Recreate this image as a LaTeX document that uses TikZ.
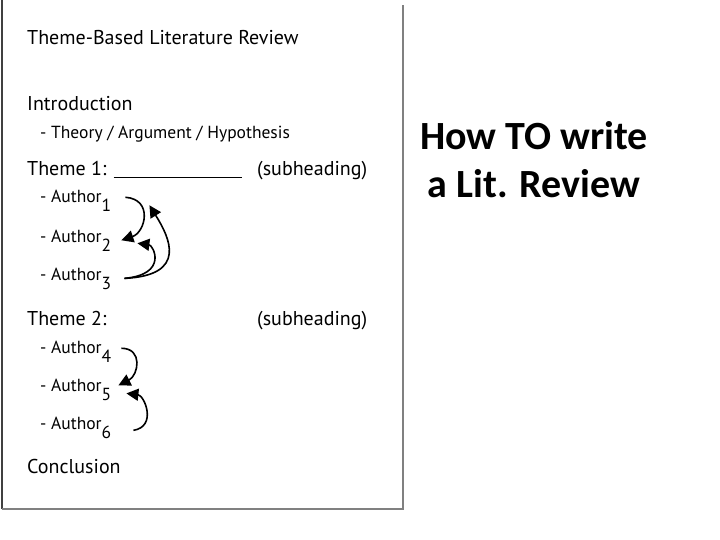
\documentclass[tikz,border=0pt]{standalone}
\usepackage{fontspec}
\setmainfont{PT Sans}
\newfontfamily\slidefont{Carlito}
\usetikzlibrary{arrows.meta, positioning}
\newcommand{\authsub}[1]{\raisebox{-9pt}{#1}}

\begin{document}
\begin{tikzpicture}[x=1pt, y=-1pt,
  hand/.style={anchor=base west, inner sep=1pt, font=\fontsize{20}{24}\selectfont},
  author/.style={hand, font=\fontsize{17.5}{21}\selectfont},
  arr/.style={-{Triangle[length=12pt, width=12pt]}, line width=1.6pt},
]
\fill[white] (0,0) rectangle (720,540);
\useasboundingbox (0,0) rectangle (720,540);

% Page frame
\draw[black!75, line width=1.5pt] (2,0) -- (2,509);
\draw[gray, line width=2pt] (2,509) -- (403,509) -- (403,5);

% Outline text
\node[hand] (title) at (26,45) {Theme-Based Literature Review};
\node[hand] (intro) at (26,111) {Introduction};
\node[author] (thesis) at (39,139) {- Theory / Argument / Hypothesis};
\node[hand] (theme1) at (26,176) {Theme 1: \underline{\hspace{128pt}}};
\node[hand] (sub1) at (256,176) {(subheading)};
\node[author] (a1) at (39,203) {- Author\authsub{1}};
\node[author] (a2) at (39,243) {- Author\authsub{2}};
\node[author] (a3) at (39,280) {- Author\authsub{3}};
\node[hand] (theme2) at (26,325) {Theme 2:};
\node[hand] (sub2) at (256,325) {(subheading)};
\node[author] (a4) at (39,353) {- Author\authsub{4}};
\node[author] (a5) at (39,391) {- Author\authsub{5}};
\node[author] (a6) at (39,429) {- Author\authsub{6}};
\node[hand] (concl) at (26,473) {Conclusion};

% Slide title
\node[align=center, font=\slidefont\bfseries\fontsize{40}{48}\selectfont] (slide) at (534,160) {How TO write\\a Lit. Review};

% Arrows
\coordinate (s3) at ([shift={(12,0)}]a3.east);
\draw[arr] ([shift={(13,-4)}]a1.east) .. controls +(28,2) and +(24,-8) .. ([shift={(9,-1)}]a2.east);
\draw[arr] (s3) .. controls +(64,-3) and +(20,32) .. ([shift={(37,4)}]a1.east);
\draw[arr] (s3) .. controls +(44,-4) and +(16,2) .. ([shift={(25,2)}]a2.east);
\draw[arr] ([shift={(9,-3)}]a4.east) .. controls +(22,0) and +(20,-10) .. ([shift={(6,-4)}]a5.east);
\draw[arr] ([shift={(21,3)}]a6.east) .. controls +(24,-4) and +(18,2) .. ([shift={(14,4)}]a5.east);
\end{tikzpicture}
\end{document}
